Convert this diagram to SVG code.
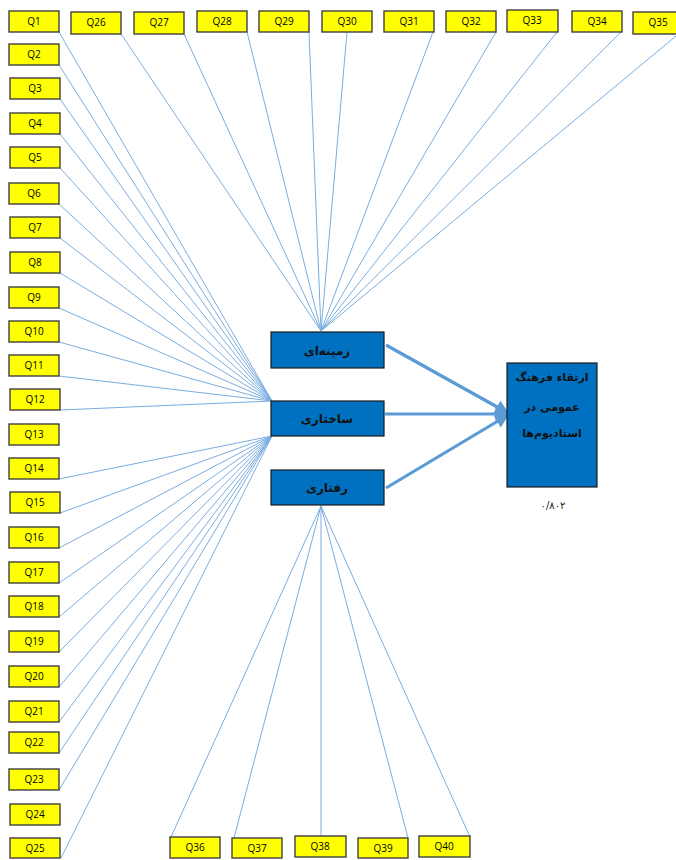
<svg xmlns="http://www.w3.org/2000/svg" width="676" height="860" viewBox="0 0 676 860">
<defs>
<style>
.q rect{fill:#FFFF00;stroke:#404040;stroke-width:1.4}
.q text{font-family:"Open Sans","Liberation Sans",sans-serif;font-size:10px;fill:#000;text-anchor:middle}
.b rect{fill:#0070C0;stroke:#1a1a1a;stroke-width:1.2}
.b text{font-family:"DejaVu Sans",sans-serif;font-size:12px;font-weight:bold;fill:#111;text-anchor:middle}
.b text.s{font-size:11px}
.c line{stroke:#7AADE0;stroke-width:1}
.a line{stroke:#5B9BD5;stroke-width:3.2}
</style>
<marker id="ah" viewBox="0 0 10 10" refX="9" refY="5" markerWidth="16" markerHeight="14" markerUnits="userSpaceOnUse" orient="auto">
<path d="M0,0 L10,5 L0,10 Z" fill="#5B9BD5"/>
</marker>
</defs>
<rect width="676" height="860" fill="#fff"/>
<g id="connectors" class="c">
<line x1="59" y1="32" x2="272" y2="401"/>
<line x1="59" y1="65" x2="272" y2="401"/>
<line x1="60" y1="99" x2="272" y2="401"/>
<line x1="60" y1="134" x2="272" y2="401"/>
<line x1="60" y1="168" x2="272" y2="401"/>
<line x1="59" y1="204" x2="272" y2="401"/>
<line x1="60" y1="238" x2="272" y2="401"/>
<line x1="60" y1="273" x2="272" y2="401"/>
<line x1="59" y1="308" x2="272" y2="401"/>
<line x1="59" y1="342" x2="272" y2="401"/>
<line x1="59" y1="376" x2="272" y2="401"/>
<line x1="60" y1="410" x2="272" y2="401"/>
<line x1="59" y1="479" x2="272" y2="436"/>
<line x1="60" y1="513" x2="272" y2="436"/>
<line x1="59" y1="548" x2="272" y2="436"/>
<line x1="59" y1="583" x2="272" y2="436"/>
<line x1="59" y1="617" x2="272" y2="436"/>
<line x1="59" y1="652" x2="272" y2="436"/>
<line x1="59" y1="687" x2="272" y2="436"/>
<line x1="59" y1="722" x2="272" y2="436"/>
<line x1="59" y1="753" x2="272" y2="436"/>
<line x1="59" y1="790" x2="272" y2="436"/>
<line x1="61" y1="858" x2="272" y2="436"/>
<line x1="121" y1="34" x2="321" y2="331"/>
<line x1="184" y1="34" x2="321" y2="331"/>
<line x1="247" y1="32" x2="321" y2="331"/>
<line x1="309" y1="32" x2="321" y2="331"/>
<line x1="347" y1="32" x2="321" y2="331"/>
<line x1="433" y1="32" x2="321" y2="331"/>
<line x1="496" y1="32" x2="321" y2="331"/>
<line x1="557" y1="32" x2="321" y2="331"/>
<line x1="621" y1="32" x2="321" y2="331"/>
<line x1="676" y1="36" x2="321" y2="331"/>
<line x1="321" y1="506" x2="171" y2="837"/>
<line x1="321" y1="506" x2="234" y2="838"/>
<line x1="321" y1="506" x2="321" y2="837"/>
<line x1="321" y1="506" x2="408" y2="838"/>
<line x1="321" y1="506" x2="470" y2="837"/>
</g>
<g id="arrows" class="a">
<line x1="386" y1="345" x2="508" y2="413" marker-end="url(#ah)"/>
<line x1="385" y1="414" x2="508" y2="414" marker-end="url(#ah)"/>
<line x1="386" y1="488" x2="508" y2="415" marker-end="url(#ah)"/>
</g>
<g id="Q1" class="q"><rect x="9" y="11" width="50" height="21"/><text x="34" y="25">Q1</text></g>
<g id="Q2" class="q"><rect x="9" y="44" width="50" height="21"/><text x="34" y="58">Q2</text></g>
<g id="Q3" class="q"><rect x="10" y="78" width="50" height="21"/><text x="35" y="92">Q3</text></g>
<g id="Q4" class="q"><rect x="10" y="113" width="50" height="21"/><text x="35" y="127">Q4</text></g>
<g id="Q5" class="q"><rect x="10" y="147" width="50" height="21"/><text x="35" y="161">Q5</text></g>
<g id="Q6" class="q"><rect x="9" y="183" width="50" height="21"/><text x="34" y="197">Q6</text></g>
<g id="Q7" class="q"><rect x="10" y="217" width="50" height="21"/><text x="35" y="231">Q7</text></g>
<g id="Q8" class="q"><rect x="10" y="252" width="50" height="21"/><text x="35" y="266">Q8</text></g>
<g id="Q9" class="q"><rect x="9" y="287" width="50" height="21"/><text x="34" y="301">Q9</text></g>
<g id="Q10" class="q"><rect x="9" y="321" width="50" height="21"/><text x="34" y="335">Q10</text></g>
<g id="Q11" class="q"><rect x="9" y="355" width="50" height="21"/><text x="34" y="369">Q11</text></g>
<g id="Q12" class="q"><rect x="10" y="389" width="50" height="21"/><text x="35" y="403">Q12</text></g>
<g id="Q13" class="q"><rect x="9" y="424" width="50" height="21"/><text x="34" y="438">Q13</text></g>
<g id="Q14" class="q"><rect x="9" y="458" width="50" height="21"/><text x="34" y="472">Q14</text></g>
<g id="Q15" class="q"><rect x="10" y="492" width="50" height="21"/><text x="35" y="506">Q15</text></g>
<g id="Q16" class="q"><rect x="9" y="527" width="50" height="21"/><text x="34" y="541">Q16</text></g>
<g id="Q17" class="q"><rect x="9" y="562" width="50" height="21"/><text x="34" y="576">Q17</text></g>
<g id="Q18" class="q"><rect x="9" y="596" width="50" height="21"/><text x="34" y="610">Q18</text></g>
<g id="Q19" class="q"><rect x="9" y="631" width="50" height="21"/><text x="34" y="645">Q19</text></g>
<g id="Q20" class="q"><rect x="9" y="666" width="50" height="21"/><text x="34" y="680">Q20</text></g>
<g id="Q21" class="q"><rect x="9" y="701" width="50" height="21"/><text x="34" y="715">Q21</text></g>
<g id="Q22" class="q"><rect x="9" y="732" width="50" height="21"/><text x="34" y="746">Q22</text></g>
<g id="Q23" class="q"><rect x="9" y="769" width="50" height="21"/><text x="34" y="783">Q23</text></g>
<g id="Q24" class="q"><rect x="10" y="804" width="50" height="21"/><text x="35" y="818">Q24</text></g>
<g id="Q25" class="q"><rect x="10" y="838" width="50" height="20"/><text x="35" y="852">Q25</text></g>
<g id="Q26" class="q"><rect x="71" y="12" width="50" height="22"/><text x="96" y="26">Q26</text></g>
<g id="Q27" class="q"><rect x="134" y="12" width="50" height="22"/><text x="159" y="26">Q27</text></g>
<g id="Q28" class="q"><rect x="197" y="11" width="50" height="21"/><text x="222" y="25">Q28</text></g>
<g id="Q29" class="q"><rect x="259" y="11" width="50" height="21"/><text x="284" y="25">Q29</text></g>
<g id="Q30" class="q"><rect x="322" y="11" width="50" height="21"/><text x="347" y="25">Q30</text></g>
<g id="Q31" class="q"><rect x="384" y="11" width="50" height="21"/><text x="409" y="25">Q31</text></g>
<g id="Q32" class="q"><rect x="446" y="11" width="50" height="21"/><text x="471" y="25">Q32</text></g>
<g id="Q33" class="q"><rect x="507" y="10" width="51" height="22"/><text x="532" y="24">Q33</text></g>
<g id="Q34" class="q"><rect x="572" y="11" width="50" height="21"/><text x="597" y="25">Q34</text></g>
<g id="Q35" class="q"><rect x="633" y="12" width="50" height="22"/><text x="658" y="26">Q35</text></g>
<g id="Q36" class="q"><rect x="170" y="837" width="50" height="21"/><text x="195" y="851">Q36</text></g>
<g id="Q37" class="q"><rect x="232" y="838" width="50" height="20"/><text x="257" y="852">Q37</text></g>
<g id="Q38" class="q"><rect x="295" y="836" width="51" height="21"/><text x="320" y="850">Q38</text></g>
<g id="Q39" class="q"><rect x="358" y="838" width="50" height="20"/><text x="383" y="852">Q39</text></g>
<g id="Q40" class="q"><rect x="419" y="836" width="51" height="21"/><text x="444" y="850">Q40</text></g>
<g id="zamine" class="b"><rect x="271" y="332" width="113" height="36"/><text x="327" y="355">زمینه‌ای</text></g>
<g id="sakhtari" class="b"><rect x="271" y="401" width="113" height="35"/><text x="327" y="423">ساختاری</text></g>
<g id="raftari" class="b"><rect x="271" y="470" width="113" height="35"/><text x="327" y="492">رفتاری</text></g>
<g id="erteqa" class="b"><rect x="507" y="363" width="90" height="124"/><text class="s" x="552" y="381">ارتقاء فرهنگ</text><text class="s" x="552" y="411">عمومی در</text><text class="s" x="552" y="437">استادیوم‌ها</text></g>
<text x="553" y="509" font-family="DejaVu Sans,sans-serif" font-size="10" fill="#222" text-anchor="middle">۰/۸۰۲</text>
</svg>
